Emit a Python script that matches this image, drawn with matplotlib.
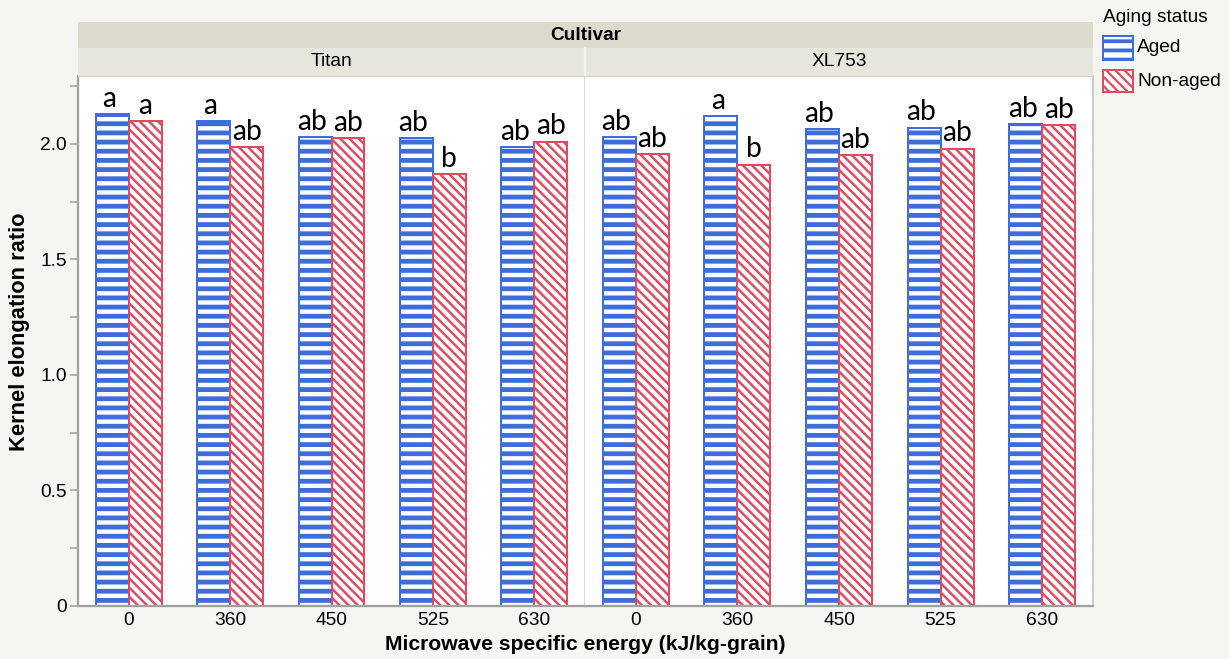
import matplotlib
matplotlib.use("Agg")
import matplotlib.pyplot as plt
from matplotlib.patches import Rectangle
import numpy as np

# ---------------- data ----------------
cultivars = ["Titan", "XL753"]
energies = ["0", "360", "450", "525", "630"]
aged_titan = [2.13, 2.10, 2.03, 2.025, 1.985]
nonaged_titan = [2.10, 1.985, 2.025, 1.87, 2.01]
aged_xl = [2.03, 2.12, 2.065, 2.07, 2.085]
nonaged_xl = [1.955, 1.91, 1.95, 1.98, 2.08]
letters_aged_titan = ["a", "a", "ab", "ab", "ab"]
letters_nonaged_titan = ["a", "ab", "ab", "b", "ab"]
letters_aged_xl = ["ab", "a", "ab", "ab", "ab"]
letters_nonaged_xl = ["ab", "b", "ab", "ab", "ab"]
ytick_vals = [0, 0.5, 1.0, 1.5, 2.0]
ytick_labels = ["0", "0.5", "1.0", "1.5", "2.0"]
legend_labels = ["Aged", "Non-aged"]

# ---------------- style ----------------
DPI = 110
W, H = 1229, 659
BLUE = "#3e6cdb"
RED = "#de4a60"
BG = "#f5f5f1"
HDR1 = "#dcdacb"
HDR2 = "#e7e6dd"
GRAY = "#a0a0a0"
FONT = "Liberation Sans"
LETTER_FONT = "Lato"
FS = 12.5

fig = plt.figure(figsize=(W / DPI, H / DPI), dpi=DPI, facecolor=BG)

def fx(px):
    return px / W

def fy(py):
    return 1 - py / H

plot_left, plot_mid, plot_right = 78, 585, 1093
plot_top, plot_bot = 76, 606
ymax = 2.294

def px_to_pt(p):
    return p * 72 / DPI

axes = []
for i in range(2):
    x0 = plot_left if i == 0 else plot_mid
    x1 = plot_mid if i == 0 else plot_right
    ax = fig.add_axes([fx(x0), fy(plot_bot), fx(x1 - x0), (plot_bot - plot_top) / H])
    ax.set_facecolor("white")
    axes.append(ax)

data_sets = [
    (aged_titan, nonaged_titan, letters_aged_titan, letters_nonaged_titan),
    (aged_xl, nonaged_xl, letters_aged_xl, letters_nonaged_xl),
]

bw = 0.325
x = np.arange(len(energies))
RED_HATCH = "\\" * 4

def make_bars(ax, xs, vals, color, hatch, hlw, align):
    with plt.rc_context({"hatch.linewidth": hlw, "hatch.color": color}):
        bars = ax.bar(xs, vals, width=bw, align=align, facecolor="white",
                      edgecolor=color, linewidth=1.3, hatch=hatch, zorder=2)
        for b in bars:
            if hasattr(b, "set_hatch_linewidth"):
                b.set_hatch_linewidth(hlw)
    return bars

for i, ax in enumerate(axes):
    aged, nonaged, la, ln = data_sets[i]
    make_bars(ax, x - bw, aged, BLUE, "--", px_to_pt(4.8), "edge")
    make_bars(ax, x, nonaged, RED, RED_HATCH, px_to_pt(2.4), "edge")
    for xi, v, t in zip(x, aged, la):
        ax.annotate(t, (xi - bw / 2, v), xytext=(-2, 1.5), textcoords="offset points",
                    ha="center", va="bottom", fontsize=18.5, family=LETTER_FONT,
                    color="black", zorder=5)
    for xi, v, t in zip(x, nonaged, ln):
        ax.annotate(t, (xi + bw / 2, v), xytext=(0, 1.5), textcoords="offset points",
                    ha="center", va="bottom", fontsize=18.5, family=LETTER_FONT,
                    color="black", zorder=5)
    ax.set_xlim(-0.5, len(energies) - 0.5)
    ax.set_ylim(0, ymax)
    ax.set_xticks(x)
    ax.set_xticklabels(energies, fontsize=FS, family=FONT)
    ax.tick_params(axis="x", length=0, pad=4)
    ax.spines["top"].set_visible(False)
    ax.spines["bottom"].set_color(GRAY)
    ax.spines["bottom"].set_linewidth(1.5)
    if i == 0:
        ax.spines["left"].set_color(GRAY)
        ax.spines["left"].set_linewidth(1.5)
        ax.spines["right"].set_color("#d8d8d8")
        ax.spines["right"].set_linewidth(1.2)
        ax.set_yticks(ytick_vals)
        ax.set_yticklabels(ytick_labels, fontsize=FS, family=FONT)
        ax.set_yticks(np.arange(0.25, ymax, 0.5), minor=True)
        ax.tick_params(axis="y", which="both", length=5.5, color=GRAY, width=1.0, pad=2)
    else:
        ax.spines["left"].set_visible(False)
        ax.spines["right"].set_color("#c8c8c8")
        ax.spines["right"].set_linewidth(1.2)
        ax.set_yticks([])

# overlay for headers and legend (pixel coordinates)
ov = fig.add_axes([0, 0, 1, 1], facecolor="none")
ov.set_xlim(0, W)
ov.set_ylim(H, 0)
ov.axis("off")
ov.add_patch(Rectangle((plot_left, 22), plot_right - plot_left, 26, facecolor=HDR1, edgecolor="none"))
ov.add_patch(Rectangle((plot_left, 48), plot_right - plot_left, 28, facecolor=HDR2, edgecolor="none"))
ov.plot([plot_mid, plot_mid], [48, 76], color="#f4f4f0", lw=1.5)
ov.plot([plot_left, plot_right], [75.5, 75.5], color="#d6d4c8", lw=0.8)
ov.text((plot_left + plot_right) / 2, 35.5, "Cultivar", ha="center", va="center",
        fontsize=FS, fontweight="bold", family=FONT)
for i, name in enumerate(cultivars):
    cx = (plot_left + plot_mid) / 2 if i == 0 else (plot_mid + plot_right) / 2
    ov.text(cx, 62, name, ha="center", va="center", fontsize=FS, family=FONT)

# axis titles
fig.text(fx(20), fy(332), "Kernel elongation ratio", rotation=90, ha="center", va="center",
         fontsize=14.3, fontweight="bold", family=FONT)
fig.text(fx(585), fy(645), "Microwave specific energy (kJ/kg-grain)", ha="center", va="center",
         fontsize=13.8, fontweight="bold", family=FONT)

# legend
ov.text(1103, 17, "Aging status", ha="left", va="center", fontsize=FS, family=FONT)
leg_specs = [(BLUE, "--", px_to_pt(3.8), 36, 24), (RED, RED_HATCH, px_to_pt(2.2), 70, 22)]
for (col, hat, hlw, y0, hh), lab in zip(leg_specs, legend_labels):
    with plt.rc_context({"hatch.linewidth": hlw, "hatch.color": col}):
        r = Rectangle((1103, y0), 30, hh, facecolor="white",
                      edgecolor=col, linewidth=1.3, hatch=hat)
        if hasattr(r, "set_hatch_linewidth"):
            r.set_hatch_linewidth(hlw)
        ov.add_patch(r)
    ov.text(1137, y0 + hh / 2, lab, ha="left", va="center", fontsize=FS, family=FONT)

fig.savefig("out.png", dpi=DPI, facecolor=BG)
